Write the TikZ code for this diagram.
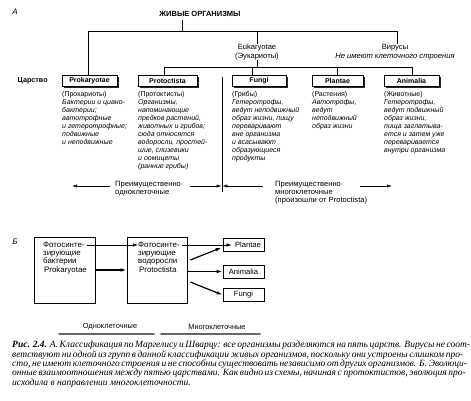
\documentclass[tikz,border=0pt]{standalone}
\usepackage{fontspec}
\setmainfont{Liberation Sans}
\newfontfamily\capserif{Liberation Serif}
\usetikzlibrary{arrows.meta,calc,shadows}
\tikzset{
  ln/.style={line width=0.6pt},
  thk/.style={line width=1.2pt},
  kbox/.style={draw, line width=0.6pt, fill=white, minimum height=11pt, inner sep=0pt,
    font=\fontsize{7}{8}\selectfont\bfseries,
    drop shadow={shadow xshift=1.6pt, shadow yshift=-1.6pt, fill=black!85, opacity=1}},
  col/.style={anchor=north west, align=left, inner sep=0pt, font=\fontsize{7}{8}\selectfont\itshape},
  lbl/.style={inner sep=0pt, font=\fontsize{7.6}{9.5}\selectfont},
  tip/.style={-{Latex[length=5pt,width=3.2pt]}},
  btip/.style={-{Latex[length=6pt,width=3.6pt]}},
  gtip/.style={{Latex[length=3.5pt,width=2.6pt]}-{Latex[length=3.5pt,width=2.6pt]}},
  bbox/.style={draw, line width=0.6pt, inner sep=0pt},
  btxt/.style={anchor=north west, align=left, inner sep=0pt, font=\fontsize{7.9}{8}\selectfont},
  sbox/.style={draw, line width=0.6pt, inner sep=0pt, minimum width=41pt, minimum height=13pt,
    font=\fontsize{7.6}{8}\selectfont},
}
\begin{document}
\begin{tikzpicture}[x=1pt,y=-1pt]
\useasboundingbox (0,0) rectangle (471,400);

% ---------- Part A ----------
\node[font=\fontsize{8}{9}\selectfont\itshape] (la) at (15,12) {А};
\node[font=\fontsize{7.5}{9}\selectfont\bfseries] (title) at (200,14) {ЖИВЫЕ ОРГАНИЗМЫ};
\node[font=\fontsize{7.2}{9}\selectfont\bfseries, anchor=west] (tsar) at (14,81) {Царство};

\node[kbox, minimum width=55pt] (prok) at (89.5,80.5) {Prokaryotae};
\node[kbox, minimum width=59pt] (prot) at (167.5,80.5) {Protoctista};
\node[kbox, minimum width=54pt] (fung) at (259,80.5) {Fungi};
\node[kbox, minimum width=51pt] (plan) at (337.5,80.5) {Plantae};
\node[kbox, minimum width=55pt] (anim) at (411.5,80.5) {Animalia};

\node[lbl, align=center] (euk) at (257,52) {Eukaryotae\\(Эукариоты)};
\node[lbl, align=center] (vir) at (395,52) {Вирусы\\\textit{Не имеют клеточного строения}};

\coordinate (t0) at (182,31);
\coordinate (cp) at (88,31);
\coordinate (ce) at (257,31);
\coordinate (cv) at (397,31);
\draw[ln] (title.south -| t0) -- (t0);
\draw[ln] (cp) -- (cv);
\draw[ln] (cp) -- (cp |- prok.north);
\draw[ln] (ce) -- (euk.north);
\draw[ln] (cv) -- (cv |- vir.north);

\coordinate (e2) at (257,67);
\coordinate (h2l) at (164,67);
\coordinate (cf) at (252,67);
\coordinate (cpl) at (337,67);
\coordinate (h2r) at (412,67);
\draw[ln] (euk.south) -- (e2);
\draw[ln] (h2l) -- (h2r);
\draw[ln] (h2l) -- (h2l |- prot.north);
\draw[ln] (cf) -- (cf |- fung.north);
\draw[ln] (cpl) -- (cpl |- plan.north);
\draw[ln] (h2r) -- (h2r |- anim.north);

\node[col] (cprok) at (62,91) {\textup{(Прокариоты)}\\Бактерии и циано-\\бактерии;\\автотрофные\\и гетеротрофные;\\подвижные\\и неподвижные};
\node[col] (cprot) at (138,91) {\textup{(Протоктисты)}\\Организмы,\\напоминающие\\предков растений,\\животных и грибов;\\сюда относятся\\водоросли, простей-\\шие,  слизевики\\и оомицеты\\(ранние грибы)};
\node[col] (cfung) at (232,91) {\textup{(Грибы)}\\Гетеротрофы,\\ведут неподвижный\\образ жизни, пищу\\переваривают\\вне организма\\и всасывают\\образующиеся\\продукты};
\node[col] (cplan) at (312,91) {\textup{(Растения)}\\Автотрофы,\\ведут\\неподвижный\\образ жизни};
\node[col] (canim) at (384,91) {\textup{(Животные)}\\Гетеротрофы,\\ведут подвижный\\образ жизни,\\пища заглатыва-\\ется и затем уже\\переваривается\\внутри организма};

\coordinate (s1) at (222,77);
\coordinate (s2) at (222,192);
\draw[ln] (s1) -- (s2);

\coordinate (a1s) at (110,186);
\coordinate (a1e) at (72,186);
\coordinate (a2s) at (190,186);
\coordinate (a3s) at (263,186);
\coordinate (a4s) at (360,186);
\coordinate (a4e) at (392,186);
\draw[ln,tip] (a1s) -- (a1e);
\draw[ln,tip] (a2s) -- ([xshift=-0.4pt]s1 |- a2s);
\draw[ln,tip] (a3s) -- ([xshift=0.4pt]s1 |- a3s);
\draw[ln,tip] (a4s) -- (a4e);
\node[lbl, anchor=north west, align=left, font=\fontsize{7.6}{8}\selectfont] (pu) at (115,181) {Преимущественно\\одноклеточные};
\node[lbl, anchor=north west, align=left, font=\fontsize{7.6}{8}\selectfont] (pm) at (275,181) {Преимущественно\\многоклеточные\\(произошли от Protoctista)};

% ---------- Part B ----------
\node[font=\fontsize{8}{9}\selectfont\itshape] (lb) at (15,242) {Б};
\node[bbox, minimum width=61pt, minimum height=66pt] (b1) at (64.5,270) {};
\node[bbox, minimum width=60pt, minimum height=66pt] (b2) at (157,270) {};
\node[btxt, anchor=west] (b1f) at (43,245) {Фотосинте-};
\node[btxt] (b1r) at (43,250.6) {зирующие\\бактерии};
\node[btxt, anchor=west] (b1p) at (44,270) {Prokaryotae};
\node[btxt, anchor=west] (b2f) at (138,245) {Фотосинте-};
\node[btxt] (b2r) at (138,250.6) {зирующие\\водоросли};
\node[btxt, anchor=west] (b2p) at (139,270) {Protoctista};

\node[sbox] (pl) at (243.5,245) {\hspace*{9pt}Plantae};
\node[sbox] (an) at (243.5,271.5) {Animalia};
\node[sbox] (fu) at (243.5,295) {Fungi};

\draw[line width=0.5pt,tip] ([xshift=2pt]b1f.east) -- (b2f.west);
\draw[line width=0.5pt,tip] ([xshift=2pt]b2f.east) -- ([xshift=9pt]pl.west);
\draw[thk,btip] (b1.east |- b1p.west) -- (b2.west |- b1p.west);
\draw[thk,btip] (b2.east |- an.west) -- (an.west);
\draw[thk,btip] ($(b2.east)+(3,-10)$) -- ($(pl.west)+(-1,2.5)$);
\draw[thk,btip] ($(b2.east)+(3,12)$) -- (fu.west);

\coordinate (g1s) at (57,334);
\coordinate (g1e) at (156,334);
\coordinate (g2s) at (159,334);
\coordinate (g2e) at (262,334);
\draw[line width=1.2pt, black!60, gtip] (g1s) -- (g1e);
\draw[line width=1.2pt, black!60, gtip] (g2s) -- (g2e);
\node[lbl, font=\fontsize{7.4}{8}\selectfont] (odn) at (110,327) {Одноклеточные};
\node[lbl, font=\fontsize{7.4}{8}\selectfont] (mno) at (217,327) {Многоклеточные};

% ---------- caption ----------
\node[anchor=north west, inner sep=0pt] (cap) at (12,341) {\parbox{451pt}{\capserif\fontsize{9.5}{9.3}\selectfont\itshape
\hbox to 451pt{\textbf{Рис. 2.4.} А. Классификация по Маргелису и Шварцу: все организмы разделяются на пять царств. Вирусы не соот-}
\hbox to 451pt{ветствуют ни одной из групп в данной классификации живых организмов, поскольку они устроены слишком про-}
\hbox to 451pt{сто, не имеют клеточного строения и не способны существовать независимо от других организмов. Б. Эволюци-}
\hbox to 451pt{онные взаимоотношения между пятью царствами. Как видно из схемы, начиная с протоктистов, эволюция про-}
\hbox{исходила в направлении многоклеточности.}}};
\end{tikzpicture}
\end{document}
